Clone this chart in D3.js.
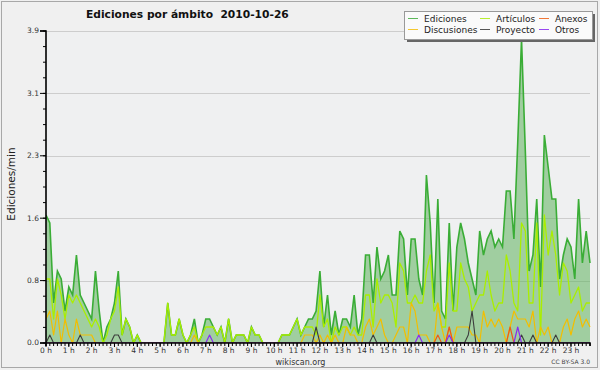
<!DOCTYPE html>
<html>
<head>
<meta charset="utf-8">
<script src="https://cdn.jsdelivr.net/npm/d3@7"></script>
<style>
  body { margin: 0; background: #f0f0f0; }
  svg { display: block; }
  text { font-family: "DejaVu Sans", sans-serif; }
</style>
</head>
<body>
<svg id="chart" width="600" height="370"></svg>
<script>
// one value per 10 minutes, 00:00 .. 23:50 (edits per minute)
const ediciones = [
  1.6, 1.5, 0.5, 0.9, 0.8, 0.4, 0.7, 0.6, 1.1, 0.6, 0.5, 0.4, 0.3, 0.9, 0.4, 0.0, 0.2, 0.3, 0.5, 0.9, 0.1, 0.3, 0.2, 0.0,
  0.1, 0.0, 0.0, 0.0, 0.0, 0.0, 0.0, 0.0, 0.5, 0.1, 0.1, 0.3, 0.1, 0.0, 0.1, 0.3, 0.0, 0.1, 0.3, 0.3, 0.2, 0.1, 0.2, 0.0,
  0.3, 0.0, 0.1, 0.1, 0.1, 0.0, 0.2, 0.1, 0.1, 0.0, 0.0, 0.0, 0.0, 0.0, 0.1, 0.1, 0.1, 0.2, 0.3, 0.1, 0.2, 0.3, 0.3, 0.4,
  0.9, 0.2, 0.6, 0.1, 0.4, 0.1, 0.3, 0.3, 0.2, 0.6, 0.1, 0.3, 1.1, 1.1, 0.5, 1.2, 0.8, 0.9, 1.1, 0.6, 0.6, 1.4, 1.3, 0.6,
  1.3, 1.3, 0.8, 0.6, 2.1, 1.5, 0.5, 1.8, 0.4, 0.3, 1.5, 0.4, 1.2, 1.5, 1.3, 1.0, 0.8, 0.6, 1.4, 1.1, 1.3, 1.4, 1.2, 1.3,
  1.2, 1.9, 1.9, 1.3, 2.5, 3.8, 2.4, 0.9, 1.1, 1.8, 0.7, 2.6, 2.2, 1.8, 1.8, 0.8, 1.1, 1.3, 1.2, 0.8, 1.8, 1.0, 1.4, 1.0
];
const articulos = [
  0.8, 0.8, 0.3, 0.8, 0.6, 0.3, 0.6, 0.5, 0.6, 0.5, 0.4, 0.3, 0.2, 0.3, 0.2, 0.0, 0.1, 0.3, 0.4, 0.7, 0.1, 0.3, 0.2, 0.0,
  0.1, 0.0, 0.0, 0.0, 0.0, 0.0, 0.0, 0.0, 0.5, 0.1, 0.1, 0.3, 0.1, 0.0, 0.1, 0.2, 0.0, 0.1, 0.2, 0.2, 0.2, 0.1, 0.2, 0.0,
  0.3, 0.0, 0.1, 0.1, 0.1, 0.0, 0.2, 0.1, 0.1, 0.0, 0.0, 0.0, 0.0, 0.0, 0.1, 0.1, 0.1, 0.2, 0.3, 0.1, 0.2, 0.2, 0.2, 0.1,
  0.6, 0.2, 0.3, 0.0, 0.2, 0.1, 0.2, 0.2, 0.1, 0.2, 0.1, 0.1, 0.6, 0.6, 0.2, 0.8, 0.5, 0.6, 0.6, 0.5, 0.2, 1.0, 0.9, 0.5,
  0.5, 0.6, 0.5, 0.5, 0.9, 1.1, 0.4, 0.5, 0.2, 0.2, 1.0, 0.4, 0.4, 1.0, 0.8, 0.7, 0.4, 0.5, 0.6, 0.6, 0.9, 0.6, 0.4, 0.5,
  0.5, 1.1, 0.9, 0.5, 0.4, 1.5, 1.4, 0.5, 0.5, 1.5, 0.1, 1.6, 1.1, 1.4, 1.1, 0.6, 1.0, 0.9, 0.5, 0.6, 0.7, 0.4, 0.5, 0.5
];
const discusiones = [
  0.3, 0.4, 0.1, 0.4, 0.0, 0.3, 0.1, 0.0, 0.3, 0.1, 0.1, 0.1, 0.1, 0.0, 0.0, 0.0, 0.0, 0.0, 0.0, 0.0, 0.0, 0.0, 0.0, 0.0,
  0.0, 0.0, 0.0, 0.0, 0.0, 0.0, 0.0, 0.0, 0.0, 0.0, 0.0, 0.0, 0.0, 0.0, 0.0, 0.1, 0.0, 0.0, 0.0, 0.0, 0.0, 0.0, 0.0, 0.0,
  0.0, 0.0, 0.0, 0.0, 0.0, 0.0, 0.0, 0.0, 0.0, 0.0, 0.0, 0.0, 0.0, 0.0, 0.0, 0.0, 0.0, 0.0, 0.0, 0.0, 0.1, 0.1, 0.1, 0.0,
  0.1, 0.0, 0.1, 0.0, 0.1, 0.0, 0.0, 0.2, 0.1, 0.1, 0.0, 0.0, 0.2, 0.3, 0.1, 0.2, 0.3, 0.1, 0.0, 0.0, 0.1, 0.2, 0.2, 0.0,
  0.5, 0.4, 0.1, 0.1, 0.1, 0.0, 0.0, 0.5, 0.2, 0.0, 0.2, 0.0, 0.2, 0.2, 0.2, 0.2, 0.1, 0.1, 0.0, 0.4, 0.2, 0.3, 0.2, 0.3,
  0.2, 0.0, 0.2, 0.4, 0.3, 0.3, 0.3, 0.2, 0.4, 0.0, 0.2, 0.1, 0.2, 0.0, 0.0, 0.0, 0.2, 0.3, 0.1, 0.3, 0.4, 0.2, 0.3, 0.2
];
// sparse series: slot index -> value, everything else is 0
const anexosPts = [[103, 0.1], [106, 0.2], [122, 0.2]];
const proyectoPts = [[1, 0.1], [9, 0.1], [18, 0.1], [19, 0.1], [71, 0.2], [86, 0.1], [111, 0.1], [112, 0.4], [125, 0.1], [128, 0.1], [134, 0.1]];
const otrosPts = [[43, 0.1], [98, 0.1], [106, 0.1], [124, 0.2]];

const yTicks = [0, 0.78, 1.56, 2.34, 3.12, 3.9];
const hourLabels = d3.range(24).map(h => h + ' h');

const legendItems = [
  { name: 'Ediciones', color: '#5cb85a' },
  { name: 'Artículos', color: '#b8ee30' },
  { name: 'Anexos', color: '#f07838' },
  { name: 'Discusiones', color: '#f4c830' },
  { name: 'Proyecto', color: '#555555' },
  { name: 'Otros', color: '#9848f0' }
];

function expand(pts) {
  const arr = new Array(ediciones.length).fill(0);
  pts.forEach(([i, v]) => { arr[i] = v; });
  return arr;
}

const svg = d3.select('#chart');
const plotL = 46, plotR = 590, plotT = 31, plotB = 343;

const x = d3.scaleLinear().domain([0, (ediciones.length - 1) * 10]).range([plotL, plotR]);
const y = d3.scaleLinear().domain([0, 3.9]).range([plotB, plotT]);

// frame
svg.append('rect').attr('x', 1.5).attr('y', 1.5).attr('width', 596).attr('height', 366)
  .attr('fill', '#f0f0f0').attr('stroke', '#a8a8a8');

svg.append('rect').attr('x', plotL).attr('y', plotT).attr('width', plotR - plotL).attr('height', plotB - plotT)
  .attr('fill', '#eff0f1');

svg.append('defs').append('clipPath').attr('id', 'plot')
  .append('rect').attr('x', plotL).attr('y', plotT - 2).attr('width', plotR - plotL + 1).attr('height', plotB - plotT + 2);

// grid
svg.append('g').selectAll('line').data(yTicks.slice(1)).join('line')
  .attr('x1', plotL).attr('x2', plotR)
  .attr('y1', d => Math.round(y(d)) + 0.5).attr('y2', d => Math.round(y(d)) + 0.5)
  .attr('stroke', '#cdcdcd');

const plot = svg.append('g').attr('clip-path', 'url(#plot)');

const line = d3.line().x((d, i) => x(i * 10)).y(d => y(d));
const area = d3.area().x((d, i) => x(i * 10)).y0(plotB).y1(d => y(d));

plot.append('path').datum(ediciones).attr('d', area)
  .attr('fill', '#5fb35c').attr('fill-opacity', 0.55);
plot.append('path').datum(ediciones).attr('d', line)
  .attr('fill', 'none').attr('stroke', '#3aad36').attr('stroke-width', 1.6);

const others = [
  { data: articulos, color: '#aaee00', w: 1.3 },
  { data: discusiones, color: '#f2be00', w: 1.2 },
  { data: expand(anexosPts), color: '#ee5a14', w: 1.2 },
  { data: expand(proyectoPts), color: '#3c3c3c', w: 1.1 },
  { data: expand(otrosPts), color: '#8a2cf0', w: 1.2 }
];
others.forEach(s => {
  plot.append('path').datum(s.data).attr('d', line)
    .attr('fill', 'none').attr('stroke', s.color).attr('stroke-width', s.w)
    .attr('stroke-linejoin', 'round');
});

// y axis
svg.append('g').attr('transform', `translate(${plotL},0)`)
  .call(d3.axisLeft(y).tickValues(yTicks).tickSize(6).tickPadding(1).offset(0).tickFormat(d3.format('.1f')));
svg.append('g').attr('transform', `translate(${plotL},0)`)
  .call(d3.axisLeft(y).tickValues(d3.range(21).map(i => i * 0.195)).tickSize(3).offset(0).tickFormat(''))
  .select('.domain').remove();

// x axis
svg.append('g').attr('transform', `translate(0,${plotB})`)
  .call(d3.axisBottom(x).tickValues(d3.range(0, 1440, 10)).tickSize(3).offset(0).tickFormat(''));
svg.append('g').attr('transform', `translate(0,${plotB})`)
  .call(d3.axisBottom(x).tickValues(d3.range(24).map(h => h * 60)).tickSize(4).tickPadding(1).offset(0)
    .tickFormat((d, i) => hourLabels[i]))
  .select('.domain').remove();

svg.selectAll('.tick text').attr('font-family', '"DejaVu Sans", sans-serif')
  .attr('font-size', 7.5).attr('fill', '#333');
svg.selectAll('.domain').attr('stroke', '#000').attr('stroke-width', 1.6);
svg.selectAll('.tick line').attr('stroke', '#000');

// titles
svg.append('text').attr('x', 86).attr('y', 18)
  .style('white-space', 'pre')
  .attr('font-size', 10.7).attr('font-weight', 'bold').attr('fill', '#111')
  .text('Ediciones por ámbito  2010-10-26');

svg.append('text').attr('transform', 'translate(15,184) rotate(-90)')
  .attr('text-anchor', 'middle')
  .attr('font-family', '"DejaVu Sans Mono", monospace').attr('font-size', 10.5).attr('fill', '#222')
  .text('Ediciones/min');

svg.append('text').attr('x', 300.5).attr('y', 365).attr('text-anchor', 'middle')
  .attr('font-size', 8).attr('fill', '#333').text('wikiscan.org');

svg.append('text').attr('x', 590).attr('y', 364).attr('text-anchor', 'end')
  .attr('font-size', 6).attr('fill', '#444').text('CC BY-SA 3.0');

// legend
const lg = svg.append('g');
lg.append('rect').attr('x', 407).attr('y', 14).attr('width', 188).attr('height', 28).attr('fill', '#666');
lg.append('rect').attr('x', 404.5).attr('y', 11.5).attr('width', 188).attr('height', 28)
  .attr('fill', '#fafafa').attr('stroke', '#999');
const colX = [408, 480, 539];
const rowY = [18.5, 29.5];
legendItems.forEach((d, i) => {
  const cx = colX[i % 3], cy = rowY[Math.floor(i / 3)];
  lg.append('line').attr('x1', cx).attr('x2', cx + 10).attr('y1', cy).attr('y2', cy)
    .attr('stroke', d.color).attr('stroke-width', 1);
  lg.append('text').attr('x', cx + 16).attr('y', cy + 3.5)
    .attr('font-size', 9).attr('fill', '#222').text(d.name);
});
</script>
</body>
</html>
